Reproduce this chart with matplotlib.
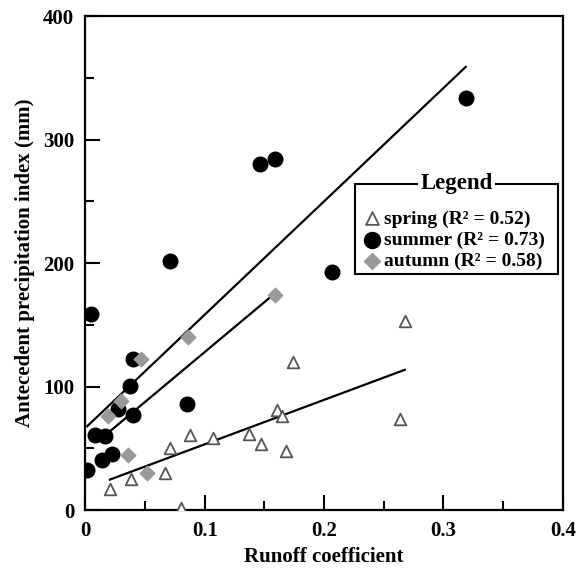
import numpy as np
import matplotlib
matplotlib.use('Agg')
import matplotlib.pyplot as plt
from matplotlib.ticker import MultipleLocator
from matplotlib.patches import Rectangle

plt.rcParams['font.family'] = ['Liberation Serif', 'DejaVu Serif']
plt.rcParams['font.weight'] = 'bold'

# spring (open triangles)
spring_x = [0.0205, 0.038, 0.067, 0.0708, 0.0805, 0.088, 0.107, 0.137, 0.1475,
            0.1607, 0.1648, 0.168, 0.174, 0.2634, 0.2676]
spring_y = [17.5, 25.6, 30.5, 50, 2, 60.7, 58.8, 62, 53.4, 81, 76, 47.8, 119.6, 73.7, 153]

# summer (black circles)
summer_x = [0.0015, 0.005, 0.008, 0.014, 0.016, 0.022, 0.027, 0.037, 0.040, 0.040,
            0.0713, 0.085, 0.146, 0.159, 0.2067, 0.3187]
summer_y = [32.4, 158.7, 60.7, 40.5, 59.9, 45.9, 82.3, 100.7, 122.8, 76.9,
            201.9, 85.8, 279.9, 284, 193, 334]

# autumn (grey diamonds)
autumn_x = [0.0186, 0.030, 0.036, 0.0465, 0.052, 0.086, 0.1587]
autumn_y = [75.9, 88.3, 44.5, 122.3, 30, 139.8, 174]

# fitted lines (slope, intercept)
fit_spring = (359.7, 17.4)
fit_summer = (917.0, 66.6)
fit_autumn = (807.5, 47.3)

r2 = {'spring': 0.52, 'summer': 0.73, 'autumn': 0.58}


def fit_line(ax, xs, fit):
    xx = np.array([min(xs), max(xs)])
    ax.plot(xx, fit[0] * xx + fit[1], color='black', lw=1.6, zorder=2)


fig = plt.figure(figsize=(5.85, 5.72), dpi=100)
ax = fig.add_axes([0.146, 0.108, 0.816, 0.864])

fit_line(ax, spring_x, fit_spring)
fit_line(ax, summer_x, fit_summer)
fit_line(ax, autumn_x, fit_autumn)

h1 = ax.scatter(spring_x, spring_y, marker='^', s=70, facecolors='white',
                edgecolors='#555555', linewidths=1.3, zorder=3,
                label='spring (R\u00b2 = %.2f)' % r2['spring'])
h2 = ax.scatter(summer_x, summer_y, marker='o', s=110, color='black', zorder=4,
                label='summer (R\u00b2 = %.2f)' % r2['summer'])
h3 = ax.scatter(autumn_x, autumn_y, marker='D', s=55, color='#999999',
                edgecolors='#999999', zorder=5,
                label='autumn (R\u00b2 = %.2f)' % r2['autumn'])

ax.set_xlim(0, 0.4)
ax.set_ylim(0, 400)
ax.xaxis.set_major_locator(MultipleLocator(0.1))
ax.xaxis.set_minor_locator(MultipleLocator(0.05))
ax.yaxis.set_major_locator(MultipleLocator(100))
ax.yaxis.set_minor_locator(MultipleLocator(50))
ax.set_xticks([0, 0.1, 0.2, 0.3, 0.4])
ax.set_xticklabels(['0', '0.1', '0.2', '0.3', '0.4'])
ax.tick_params(which='major', direction='in', length=11, width=1.5,
               labelsize=15, top=False, right=False, pad=8)
ax.tick_params(which='minor', direction='in', length=6.5, width=1.5,
               top=False, right=False)
for sp in ax.spines.values():
    sp.set_linewidth(1.6)

ax.set_xlabel('Runoff coefficient', fontsize=15, fontweight='bold', labelpad=4)
ax.set_ylabel('Antecedent precipitation index (mm)', fontsize=15,
              fontweight='bold', labelpad=6)

# invisible title only reserves room; the visible one sits on the border
leg = ax.legend(handles=[h1, h2, h3], loc='upper left',
                bbox_to_anchor=(0.564, 0.661), borderaxespad=0,
                fontsize=14, frameon=False,
                title='Legend', title_fontsize=12,
                handletextpad=0.1, handlelength=1.05, borderpad=0.35,
                labelspacing=0.18, markerscale=1.1)
leg.get_title().set_alpha(0)

fig.canvas.draw()
bb = leg.get_window_extent()
W, H = fig.bbox.width, fig.bbox.height
x0, y0 = bb.x0 / W, (bb.y0 + 3) / H
x1, y1 = (bb.x1 + 7) / W, bb.y1 / H
fig.patches.append(Rectangle((x0, y0), x1 - x0, y1 - y0, transform=fig.transFigure,
                             facecolor='none', edgecolor='black', lw=1.5, zorder=9))
fig.text((x0 + x1) / 2, y1, 'Legend', ha='center', va='center',
         fontsize=16.5, fontweight='bold',
         bbox=dict(facecolor='white', edgecolor='none', pad=2), zorder=10)

plt.savefig('out.png', dpi=100)
